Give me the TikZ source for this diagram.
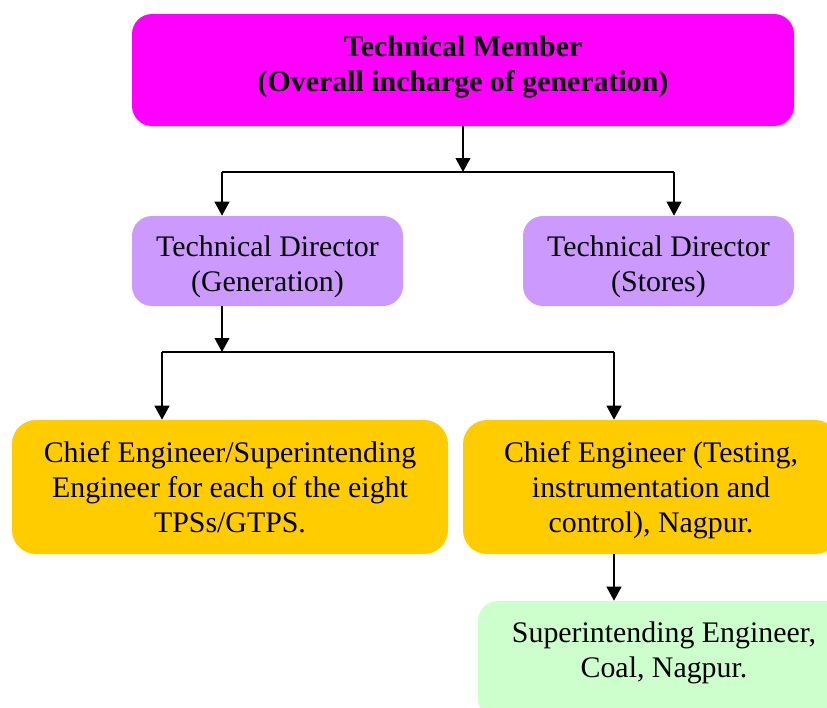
\documentclass[tikz,border=0pt]{standalone}
\usepackage{fontspec}
\setmainfont{Liberation Serif}
\usetikzlibrary{arrows.meta}
\definecolor{memberpink}{HTML}{FF00FF}
\definecolor{directorlilac}{HTML}{CC99FF}
\definecolor{engineeramber}{HTML}{FFCC00}
\definecolor{coalgreen}{HTML}{CCFFCC}
\begin{document}
\begin{tikzpicture}[x=0.75pt,y=-0.75pt,
  box/.style={rounded corners=15pt, inner sep=0pt},
  txt/.style={align=center, inner sep=0pt,
    font=\fontsize{22.4}{26.25}\selectfont},
  link/.style={line width=1.5pt, -{Triangle[length=10.5pt,width=11pt]}},
  wire/.style={line width=1.5pt}]
\useasboundingbox (0,0) rectangle (827,707);
\clip (0,0) rectangle (827,707);

% boxes, each with its caption set as a centred label
\node[box, fill=memberpink, minimum width=496.5pt, minimum height=84pt,
  label={[txt, yshift=2.25pt, font=\fontsize{22.4}{26.25}\selectfont\bfseries]center:{Technical Member\\(Overall incharge of generation)}}]
  (tm) at (463,70) {};
\node[box, fill=directorlilac, minimum width=203.25pt, minimum height=67.5pt,
  label={[txt, yshift=-4.5pt]center:{Technical Director\\(Generation)}}]
  (tdg) at (267.5,261) {};
\node[box, fill=directorlilac, minimum width=203.25pt, minimum height=67.5pt,
  label={[txt, yshift=-4.5pt]center:{Technical Director\\(Stores)}}]
  (tds) at (658.5,261) {};
\node[box, fill=engineeramber, rounded corners=18pt, minimum width=327pt, minimum height=100.5pt,
  label={[txt]center:{Chief Engineer/Superintending\\Engineer for each of the eight\\TPSs/GTPS.}}]
  (ceL) at (230,487) {};
\node[box, fill=engineeramber, rounded corners=18pt, minimum width=282pt, minimum height=100.5pt,
  label={[txt, yshift=-2.25pt]center:{Chief Engineer (Testing,\\instrumentation and\\control), Nagpur.}}]
  (ceR) at (651,487) {};
\node[box, fill=coalgreen, minimum width=279pt, minimum height=88.5pt,
  label={[txt, yshift=5.25pt]center:{Superintending Engineer,\\Coal, Nagpur.}}]
  (se) at (664,660) {};

% junction points
\coordinate (j1) at (463,172);
\coordinate (b1L) at (222,172);
\coordinate (b1R) at (674,172);
\coordinate (j2) at (222,352);
\coordinate (b2L) at (162,352);
\coordinate (b2R) at (614,352);

% connectors
\draw[link] (tm.south) -- (j1);
\draw[wire] (b1L) -- (b1R);
\draw[link] (b1L) -- (b1L |- tdg.north);
\draw[link] (b1R) -- (b1R |- tds.north);
\draw[link] (j2 |- tdg.south) -- (j2);
\draw[wire] (b2L) -- (b2R);
\draw[link] (b2L) -- (b2L |- ceL.north);
\draw[link] (b2R) -- (b2R |- ceR.north);
\draw[link] (b2R |- ceR.south) -- (b2R |- se.north);
\end{tikzpicture}
\end{document}
